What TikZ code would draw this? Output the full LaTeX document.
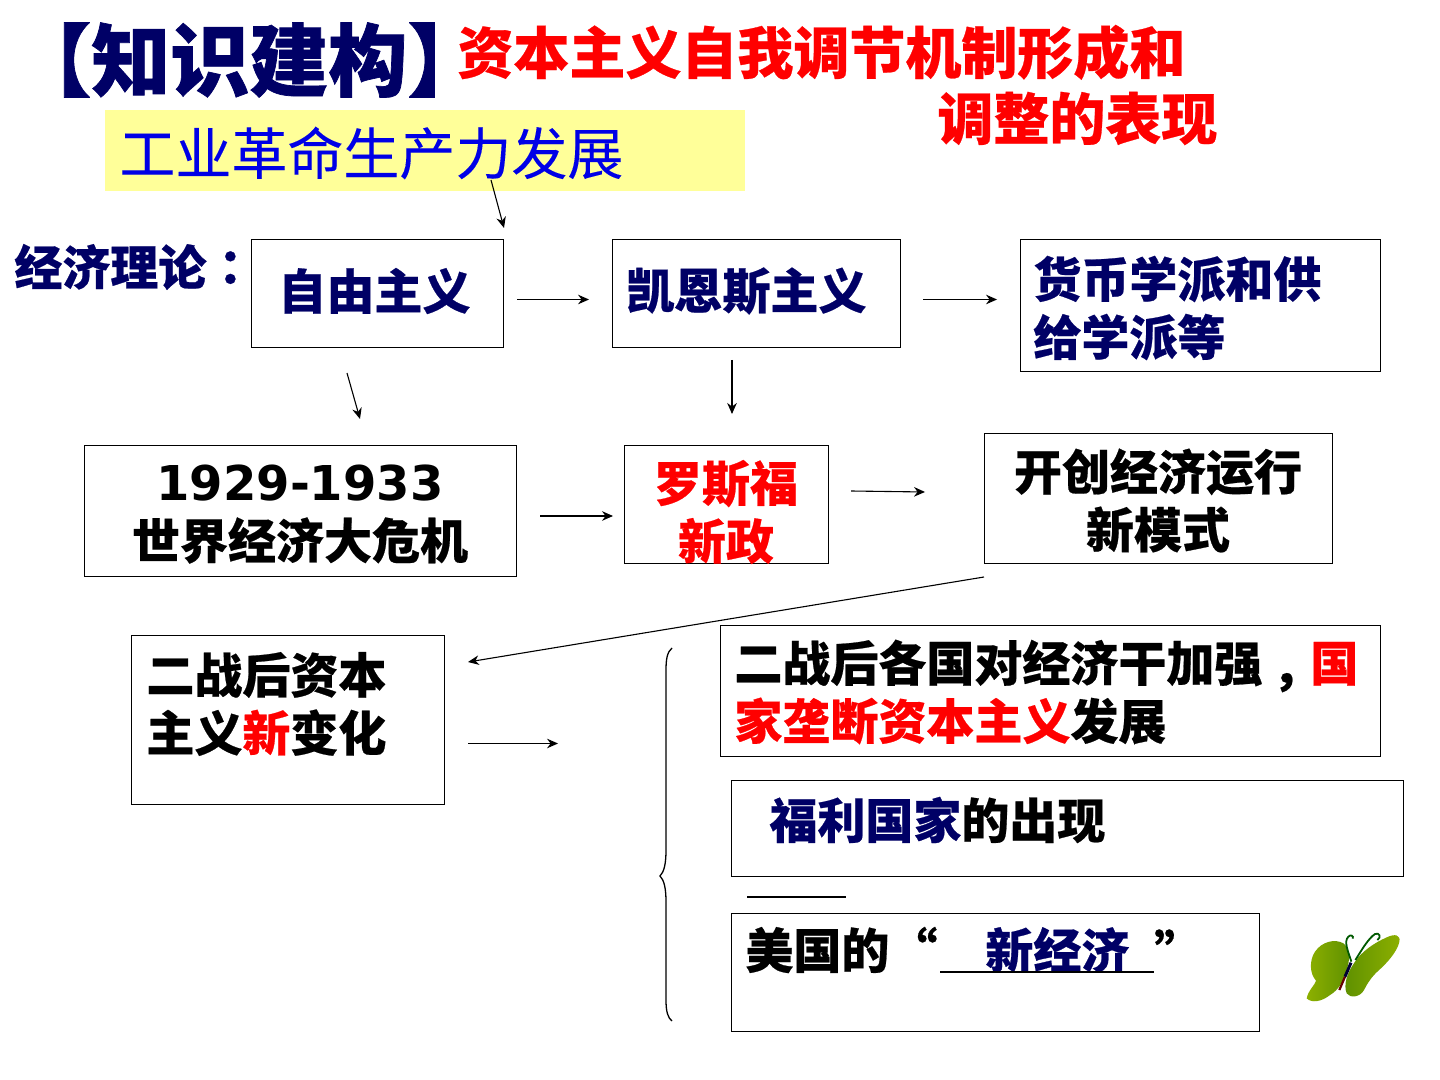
\documentclass[tikz,border=0pt]{standalone}
\usepackage{fontspec}
\usetikzlibrary{arrows.meta}
\newfontfamily\cjk[BoldFeatures={FakeBold=0.45}]{Noto Sans CJK SC}
\newfontfamily\cjkhead[BoldFeatures={FakeBold=0.9}]{Noto Sans CJK SC}
\newfontfamily\cjkpunct[BoldFeatures={FakeBold=0.45}]{Noto Sans CJK TC}
\newfontfamily\cjklight[FakeBold=0.15]{Noto Sans CJK SC}
\newfontfamily\latinbold{DejaVu Sans}
\definecolor{navy}{HTML}{000066}
\definecolor{hotred}{HTML}{FF0000}
\definecolor{pureblue}{HTML}{0000E6}
\definecolor{paleyellow}{HTML}{FFFF99}
\definecolor{wingA}{HTML}{8DB000}
\definecolor{wingB}{HTML}{5E9000}
\newcommand{\rd}[1]{\textcolor{hotred}{#1}}
\newcommand{\nv}[1]{\textcolor{navy}{#1}}
\newcommand{\pct}[1]{{\cjkpunct\bfseries #1}}
\tikzset{
  x=0.5pt,y=-0.5pt,
  boxed/.style={draw=black,line width=0.45pt,inner sep=0pt,outer sep=0pt,anchor=north west},
  lbl/.style={inner sep=0pt,align=left,text=black,
    font=\cjk\bfseries\fontsize{24}{29}\selectfont},
  lblw/.style={lbl,anchor=west},
  lblc/.style={lbl,anchor=center,align=center},
  big/.style={inner sep=0pt,anchor=west,align=left,font=\cjk\bfseries\fontsize{28}{33}\selectfont},
  conn/.style={draw=black,line width=0.55pt,-{Stealth[length=5.5pt,width=4.8pt]}},
}
\newcommand{\bx}[5]{\node[boxed,minimum width=#4*0.5pt-#2*0.5pt,minimum height=#5*0.5pt-#3*0.5pt] (#1) at (#2,#3) {};}
\begin{document}
\begin{tikzpicture}
\useasboundingbox (0,0) rectangle (1440,1080);
\fill[white] (0,0) rectangle (1440,1080);

% heading band
\fill[paleyellow] (105,110) rectangle (745,191);
\node[anchor=west,inner sep=0pt,text=navy,font=\cjkhead\bfseries\fontsize{39.5}{44}\selectfont] (head) at (12,60) {【知识建构】};
\node[big,text=hotred] (title) at (457,85) {资本主义自我调节机制形成和\\\hspace*{240pt}调整的表现};
\node[anchor=west,inner sep=0pt,text=pureblue,font=\cjklight\fontsize{28}{33}\selectfont] (indrev) at (119,153) {工业革命生产力发展};

% frames
\bx{lib}{251}{239}{503}{347}
\bx{key}{612}{239}{900}{347}
\bx{mon}{1020}{239}{1380}{371}
\bx{crisis}{84}{445}{516}{576}
\bx{rsv}{624}{445}{828}{563}
\bx{mode}{984}{433}{1332}{563}
\bx{post}{131}{635}{444}{804}
\bx{mono}{720}{625}{1380}{756}
\bx{welf}{731}{780}{1403}{876}
\bx{usa}{731}{913}{1259}{1031}

% row labels and frame texts
\node[lblw,text=navy] (theory) at (14,267) {经济理论\pct{：}};
\node[lblw,text=navy] (libT) at (278,291) {自由主义};
\node[lblw,text=navy] (keyT) at (626,291) {凯恩斯主义};
\node[lblw,text=navy] (monT) at (1033,308) {货币学派和供\\给学派等};
\node[lblc] (crisisA) at (300,483) {\latinbold\bfseries 1929-1933};
\node[lblc] (crisisB) at (300,540.5) {世界经济大危机};
\node[lblc,text=hotred] (rsvT) at (726,512) {罗斯福\\新政};
\node[lblc] (modeT) at (1158,500.5) {开创经济运行\\新模式};
\node[lblw] (postT) at (146,704) {二战后资本\\主义\rd{新}变化};
\node[lblw] (monoT) at (734,692) {二战后各国对经济干加强\smash{\raisebox{-9pt}{\pct{，}}}\rd{国}\\\rd{家垄断资本主义}发展};
\node[lblw] (welfT) at (769,820) {\nv{福利国家}的出现};
\node[lblw] (usaA) at (745,950) {美国的“};
\node[lblw,text=navy] (usaB) at (985,950) {新经济};
\node[lblw] (usaC) at (1154,950) {”};

% rules under the fill-in words
\coordinate (ruleAs) at (747,897);
\coordinate (ruleAe) at (846,897);
\coordinate (ruleBs) at (940,972);
\coordinate (ruleBe) at (1154,972);
\draw[line width=1.4pt] (ruleAs) -- (ruleAe);
\draw[line width=1.2pt] (ruleBs) -- (ruleBe);

% connector end points, set clear of the frames
\coordinate (a1) at (491,180);  \coordinate (b1) at (504,228);
\coordinate (a2) at (517,299.5);  \coordinate (b2) at (589,299.5);
\coordinate (a3) at (923,299.5);  \coordinate (b3) at (997,299.5);
\coordinate (a4) at (347,373);  \coordinate (b4) at (360,419);
\coordinate (a5) at (732,360);  \coordinate (b5) at (732,414);
\coordinate (a6) at (540,516);  \coordinate (b6) at (613,516);
\coordinate (a7) at (851,491);  \coordinate (b7) at (925,492);
\coordinate (a8) at (984,577);  \coordinate (b8) at (468,662);
\coordinate (a9) at (468,743.5);  \coordinate (b9) at (558,743.5);
\foreach \i in {1,...,9} {\draw[conn] (a\i) -- (b\i);}

% brace gathering the three post-war developments
\draw[black,line width=0.65pt] (672,648)
  .. controls (667,652) and (666,660) .. (666,670)
  -- (666,850)
  .. controls (666,864) and (664,872) .. (660,876)
  .. controls (664,880) and (666,888) .. (666,902)
  -- (666,1000)
  .. controls (666,1012) and (668,1018) .. (672,1021);

% butterfly
\begin{scope}[shift={(1280,910)},x=0.1667pt,y=-0.1667pt]
  \path[left color=wingA,right color=wingB]
    (80,265) .. controls (85,240) and (105,225) .. (108,212)
    .. controls (88,190) and (88,150) .. (105,125)
    .. controls (125,95) and (165,85) .. (190,100)
    .. controls (210,115) and (212,150) .. (198,185)
    .. controls (190,215) and (175,240) .. (150,255)
    .. controls (125,275) and (95,280) .. (80,265) -- cycle;
  \path[left color=wingB,right color=wingA]
    (200,250) .. controls (190,225) and (200,190) .. (225,155)
    .. controls (245,125) and (280,100) .. (320,82)
    .. controls (345,70) and (362,75) .. (358,95)
    .. controls (352,125) and (320,160) .. (295,182)
    .. controls (275,200) and (262,220) .. (252,240)
    .. controls (240,262) and (210,265) .. (200,250) -- cycle;
  \draw[line width=1.1pt,color=black!60!red] (178,240) -- (195,200);
  \draw[line width=1.5pt,color=black!80!blue] (195,200) -- (213,158);
  \draw[line width=0.9pt,color=black!65!green] (214,155)
    .. controls (205,125) and (190,95) .. (205,80)
    .. controls (212,72) and (222,78) .. (218,86);
  \draw[line width=0.9pt,color=black!65!green] (226,150)
    .. controls (245,120) and (265,85) .. (285,72)
    .. controls (298,66) and (305,82) .. (292,90);
\end{scope}
\end{tikzpicture}
\end{document}
